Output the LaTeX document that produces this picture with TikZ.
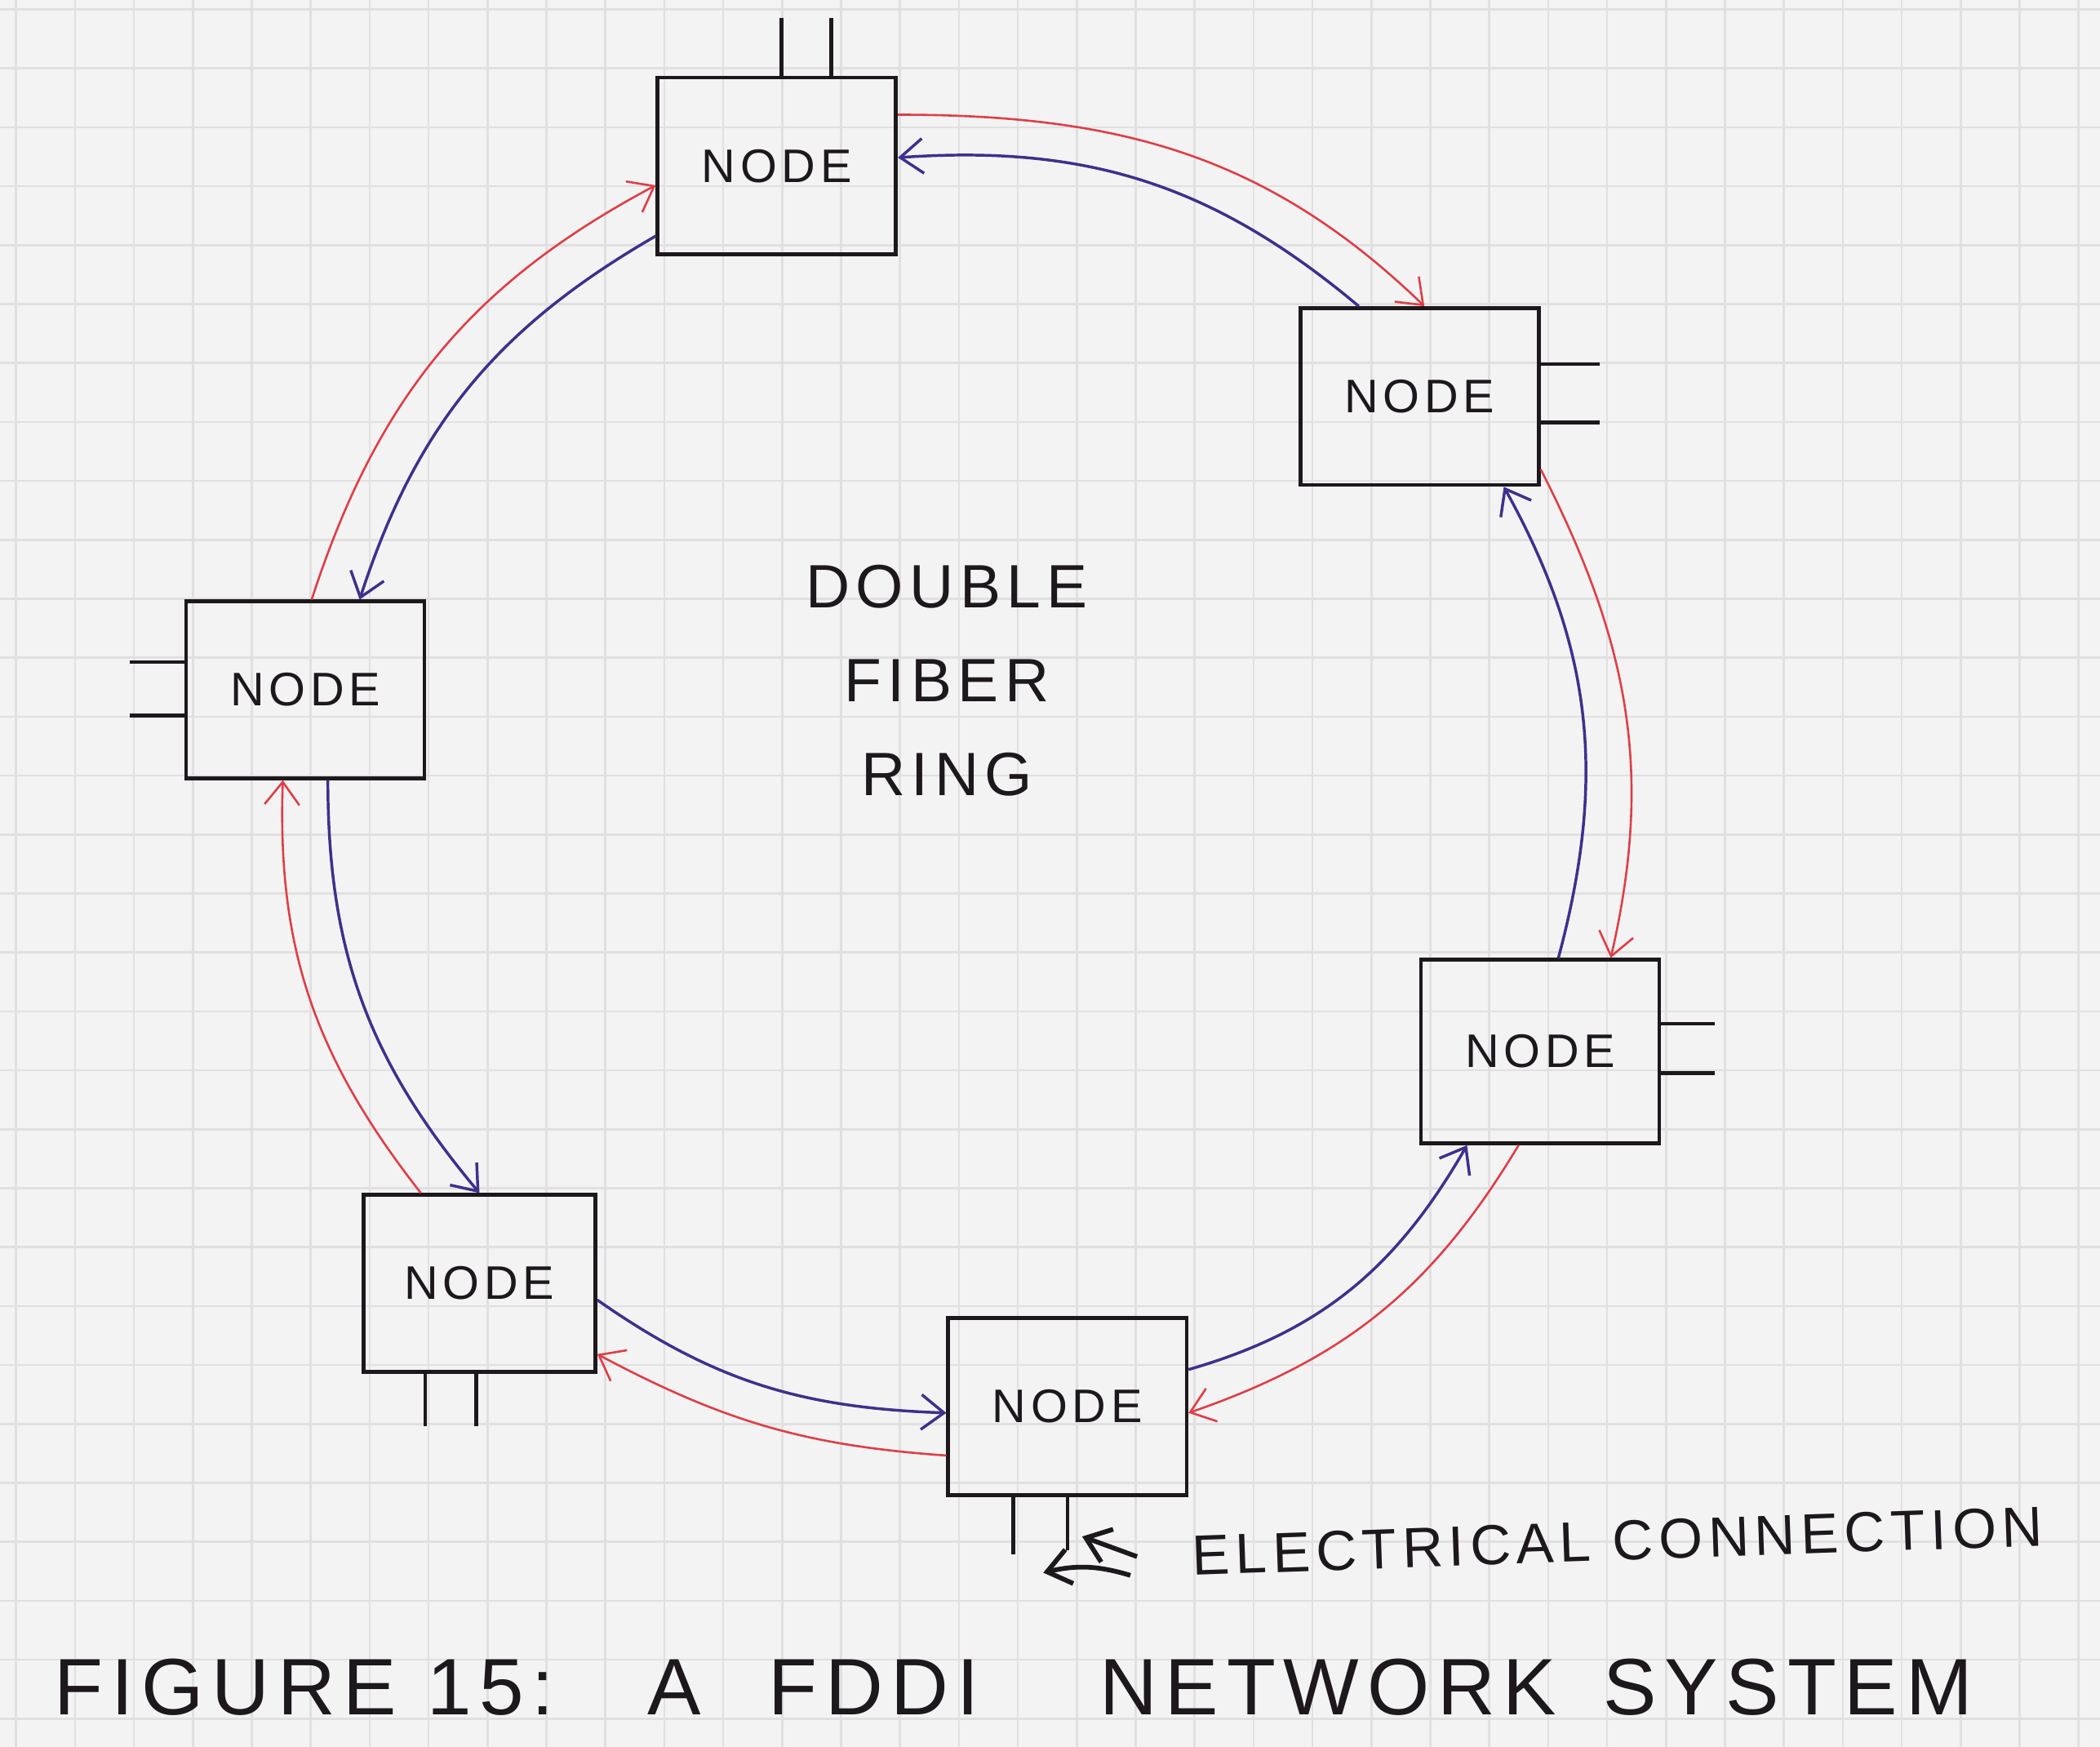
\documentclass[tikz,border=0pt]{standalone}
\usepackage{fontspec}
\usetikzlibrary{arrows.meta}
\newfontfamily\handfont[LetterSpace=10]{Liberation Sans}
\definecolor{ink}{RGB}{28,24,28}
\definecolor{fiberred}{RGB}{222,62,72}
\definecolor{fiberblue}{RGB}{62,48,140}
\definecolor{paper}{RGB}{243,243,243}
\definecolor{gridgray}{RGB}{224,224,224}
\begin{document}
\begin{tikzpicture}[x=0.1mm,y=0.1mm,>={Straight Barb[length=1.7mm,width=2.6mm]},
	nodebox/.style={draw=ink,line width=0.8pt,minimum width=17.8mm,minimum height=13.2mm,inner sep=0pt,text=ink,font=\handfont\fontsize{10}{12}\selectfont},
	redfiber/.style={->,draw=fiberred,line width=0.45pt},
	bluefiber/.style={->,draw=fiberblue,line width=0.6pt},
	stub/.style={draw=ink,line width=0.8pt},
	elecarrow/.style={->,draw=ink,line width=1pt},
	handtext/.style={text=ink,inner sep=0pt}]
	\fill[paper] (0,0) rectangle (1568,-1304);
	\useasboundingbox (0,0) rectangle (1568,-1304);
	\begin{scope}[shift={(12,-7)}]
		\draw[gridgray,line width=0.45pt,step=4.4mm] (-12,7) grid (1556,-1297);
	\end{scope}
	\node[nodebox] (ntop) at (580,-124) {NODE};
	\node[nodebox] (nne) at (1060,-296) {NODE};
	\node[nodebox] (nw) at (228,-515) {NODE};
	\node[nodebox,minimum height=13.7mm] (ne) at (1150,-785) {NODE};
	\node[nodebox,minimum width=17.3mm] (nsw) at (358,-958) {NODE};
	\node[nodebox] (ns) at (797,-1050) {NODE};
	\draw[stub] (ntop.87) -- ++(0,43);
	\draw[stub] (ntop.59) -- ++(0,43);
	\draw[stub] (nne.15) -- ++(44,0);
	\draw[stub] (nne.-12) -- ++(44,0);
	\draw[stub] (nw.167) -- ++(-41,0);
	\draw[stub] (nw.192) -- ++(-41,0);
	\draw[stub] (ne.13) -- ++(40,0);
	\draw[stub] (ne.-10) -- ++(40,0);
	\draw[stub] (nsw.239) -- ++(0,-39);
	\draw[stub] (nsw.268) -- ++(0,-39);
	\draw[stub] (ns.239) -- ++(0,-43);
	\draw[stub] (ns.270) -- ++(0,-40);
	\draw[redfiber] (ntop.23) to[out=0,in=136] (nne.87);
	\draw[bluefiber] (nne.124) to[out=140,in=4] (ntop.4);
	\draw[redfiber] (nne.-31) to[out=-63,in=77] (ne.53);
	\draw[bluefiber] (ne.79) to[out=75,in=-61] (nne.-47);
	\draw[redfiber] (ne.-103) to[out=-121,in=19] (ns.-3);
	\draw[bluefiber] (ns.17) to[out=16,in=-120] (ne.-128);
	\draw[redfiber] (ns.202) to[out=176,in=-28] (nsw.-31);
	\draw[bluefiber] (nsw.-8) to[out=-35,in=178] (ns.183);
	\draw[redfiber] (nsw.123) to[out=128,in=-92] (nw.256);
	\draw[bluefiber] (nw.-76) to[out=-90,in=130] (nsw.90);
	\draw[redfiber] (nw.86) to[out=72,in=-152] (ntop.189);
	\draw[bluefiber] (ntop.210) to[out=-150,in=72] (nw.59);
	\node[handtext,align=center,font=\handfont\fontsize{13}{20}\selectfont] (ringlabel) at (707,-508) {DOUBLE\\FIBER\\RING};
	\node[handtext,anchor=base west,rotate=2,font=\handfont\fontsize{12}{14}\selectfont] (elec) at (890,-1176) {ELECTRICAL CONNECTION};
	\coordinate (ectaila) at (849,-1162);
	\coordinate (ectipa) at (808,-1147);
	\coordinate (ectailb) at (844,-1176);
	\coordinate (ectipb) at (779,-1174);
	\draw[elecarrow] (ectaila) -- (ectipa);
	\draw[elecarrow] (ectailb) to[bend right=15] (ectipb);
	\node[handtext,anchor=base west,font=\handfont\fontsize{17}{20}\selectfont] (caption) at (40,-1280) {FIGURE 15:\hspace{7mm}A\hspace{5mm}FDDI\hspace{9mm}NETWORK\hspace{3.5mm}SYSTEM};
\end{tikzpicture}
\end{document}
